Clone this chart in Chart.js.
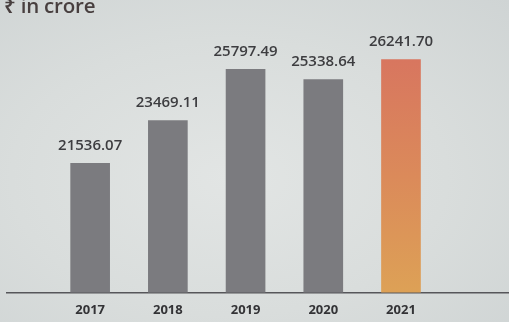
<!DOCTYPE html>
<html>
<head>
<meta charset="utf-8">
<script src="https://cdn.jsdelivr.net/npm/chart.js@4/dist/chart.umd.min.js"></script>
<style>
  html, body { margin: 0; padding: 0; }
  body {
    width: 509px; height: 322px; overflow: hidden;
    background: radial-gradient(ellipse at 45% 55%, #e2e5e4 0%, #d9dddc 55%, #cfd4d4 100%);
    position: relative;
    font-family: "Open Sans", "Noto Sans", sans-serif;
  }
  #unit {
    position: absolute; left: 4px; top: -9px;
    font-size: 20.5px; font-weight: 600; color: #483f3f;
    letter-spacing: -0.2px;
  }
  #wrap { position: absolute; left: 0; top: 0; width: 509px; height: 336px; }
</style>
</head>
<body>
<div id="wrap"><canvas id="c" width="509" height="336"></canvas></div>
<div id="unit">₹ in crore</div>
<script>
// Revenue in ₹ crore by year
const years = [2017, 2018, 2019, 2020, 2021];
const revenue = [21536.07, 23469.11, 25797.49, 25338.64, 26241.70];
const valueLabels = ['21536.07', '23469.11', '25797.49', '25338.64', '26241.70'];

const grayBar = '#7b7b7f';

// Highlighted latest year gets a vertical orange gradient
function barColor(ctx) {
  if (ctx.dataIndex !== years.length - 1) return grayBar;
  const chart = ctx.chart;
  const area = chart.chartArea;
  const yScale = chart.scales.y;
  if (!area || !yScale) return '#db8858';
  const top = yScale.getPixelForValue(revenue[ctx.dataIndex]);
  if (!isFinite(top) || !isFinite(area.bottom)) return '#db8858';
  const g = chart.ctx.createLinearGradient(0, top, 0, area.bottom);
  g.addColorStop(0, '#d8765f');
  g.addColorStop(0.5, '#db8a5a');
  g.addColorStop(1, '#dda156');
  return g;
}

// Value text above each bar
const valueLabelPlugin = {
  id: 'valueLabels',
  afterDatasetsDraw(chart) {
    const c = chart.ctx;
    const meta = chart.getDatasetMeta(0);
    c.save();
    c.font = '600 15px "Open Sans", "Noto Sans", sans-serif';
    c.fillStyle = '#3d3d40';
    c.textAlign = 'center';
    c.textBaseline = 'middle';
    meta.data.forEach((bar, i) => {
      c.fillText(valueLabels[i], bar.x, bar.y - 18);
    });
    c.restore();
  }
};

new Chart(document.getElementById('c'), {
  type: 'bar',
  data: {
    datasets: [{
      data: years.map((y, i) => ({ x: y, y: revenue[i] })),
      backgroundColor: barColor,
      barThickness: 39,
      borderWidth: 0
    }]
  },
  options: {
    responsive: false,
    animation: false,
    devicePixelRatio: 1,
    layout: { padding: { left: 7, right: 0, top: 0, bottom: 8 } },
    plugins: { legend: { display: false }, tooltip: { enabled: false } },
    scales: {
      x: {
        type: 'linear',
        offset: false,
        min: 2015.93,
        max: 2022.39,
        grid: { display: false, drawTicks: false },
        border: { display: true, color: '#56565a', width: 1.5 },
        ticks: {
          stepSize: 1,
          autoSkip: false,
          padding: 10,
          color: '#333336',
          font: { family: '"Open Sans", "Noto Sans", sans-serif', size: 13, weight: '700' },
          callback: (v) => (years.includes(v) ? String(v) : '')
        },
        afterBuildTicks(axis) {
          axis.ticks = years.map(v => ({ value: v }));
        }
      },
      y: {
        display: false,
        min: 15677,
        max: 28944,
        grid: { display: false }
      }
    }
  },
  plugins: [valueLabelPlugin]
});
</script>
</body>
</html>
